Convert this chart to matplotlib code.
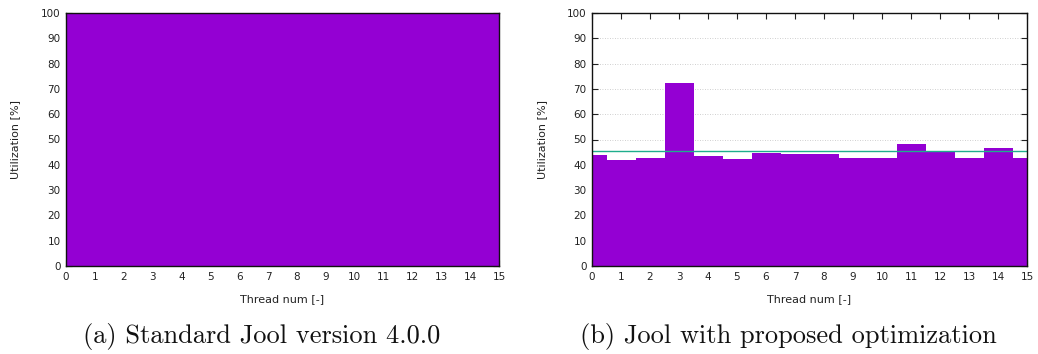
import matplotlib
matplotlib.use("Agg")
import matplotlib.pyplot as plt
import numpy as np

threads = list(range(16))
util_standard = [100] * 16
util_optimized = [44.0, 41.9, 42.6, 72.2, 43.6, 42.3, 44.7, 44.3,
                  44.4, 42.6, 42.5, 48.3, 45.0, 42.6, 46.6, 42.5]
avg_optimized = 45.5
x_ticks = list(range(16))
y_ticks = list(range(0, 101, 10))
captions = ["(a) Standard Jool version 4.0.0", "(b) Jool with proposed optimization"]

PURPLE = "#9400D3"
TEAL = "#1fae8c"

W, H = 1038, 354
fig = plt.figure(figsize=(W / 100, H / 100), dpi=100)
TOP, BOT = 13, 266

def make_ax(left_px, right_px, ylab_px, values, avg=None):
    w = right_px - left_px
    ax = fig.add_axes([left_px / W, 1 - BOT / H, w / W, (BOT - TOP) / H])
    ax.set_axisbelow(True)
    ax.bar(threads, values, width=1.0, color=PURPLE, linewidth=0, zorder=1)
    if avg is not None:
        ax.axhline(avg, color=TEAL, linewidth=1.0, zorder=3)
    ax.set_xlim(0, 15)
    ax.set_ylim(0, 100)
    ax.set_xticks(x_ticks)
    ax.set_yticks(y_ticks)
    ax.tick_params(direction="in", length=4, width=0.8, labelsize=7.5,
                   top=True, right=True, colors="#222222", labelcolor="#222222", pad=4)
    ax.yaxis.grid(True, linestyle=(0, (1, 2)), color="#c0c0c0", linewidth=0.6)
    for s in ax.spines.values():
        s.set_linewidth(1.0)
        s.set_color("#111111")
        s.set_zorder(4)
    ax.set_ylabel("Utilization [%]", fontsize=8, color="#222222")
    ax.yaxis.set_label_coords((ylab_px - left_px) / w, 0.5)
    ax.set_xlabel("Thread num [-]", fontsize=8, color="#222222")
    ax.xaxis.set_label_coords(0.5, (BOT - 294) / (BOT - TOP))
    return ax

ax1 = make_ax(66, 499, 20, util_standard)
ax2 = make_ax(592, 1027, 547, util_optimized, avg=avg_optimized)

fig.text(262 / W, 1 - 336 / H, captions[0], ha="center", va="center",
         fontsize=19, family="cmr10", color="#111111")
fig.text(788 / W, 1 - 336 / H, captions[1], ha="center", va="center",
         fontsize=19, family="cmr10", color="#111111")

fig.savefig("out.png", dpi=100)
